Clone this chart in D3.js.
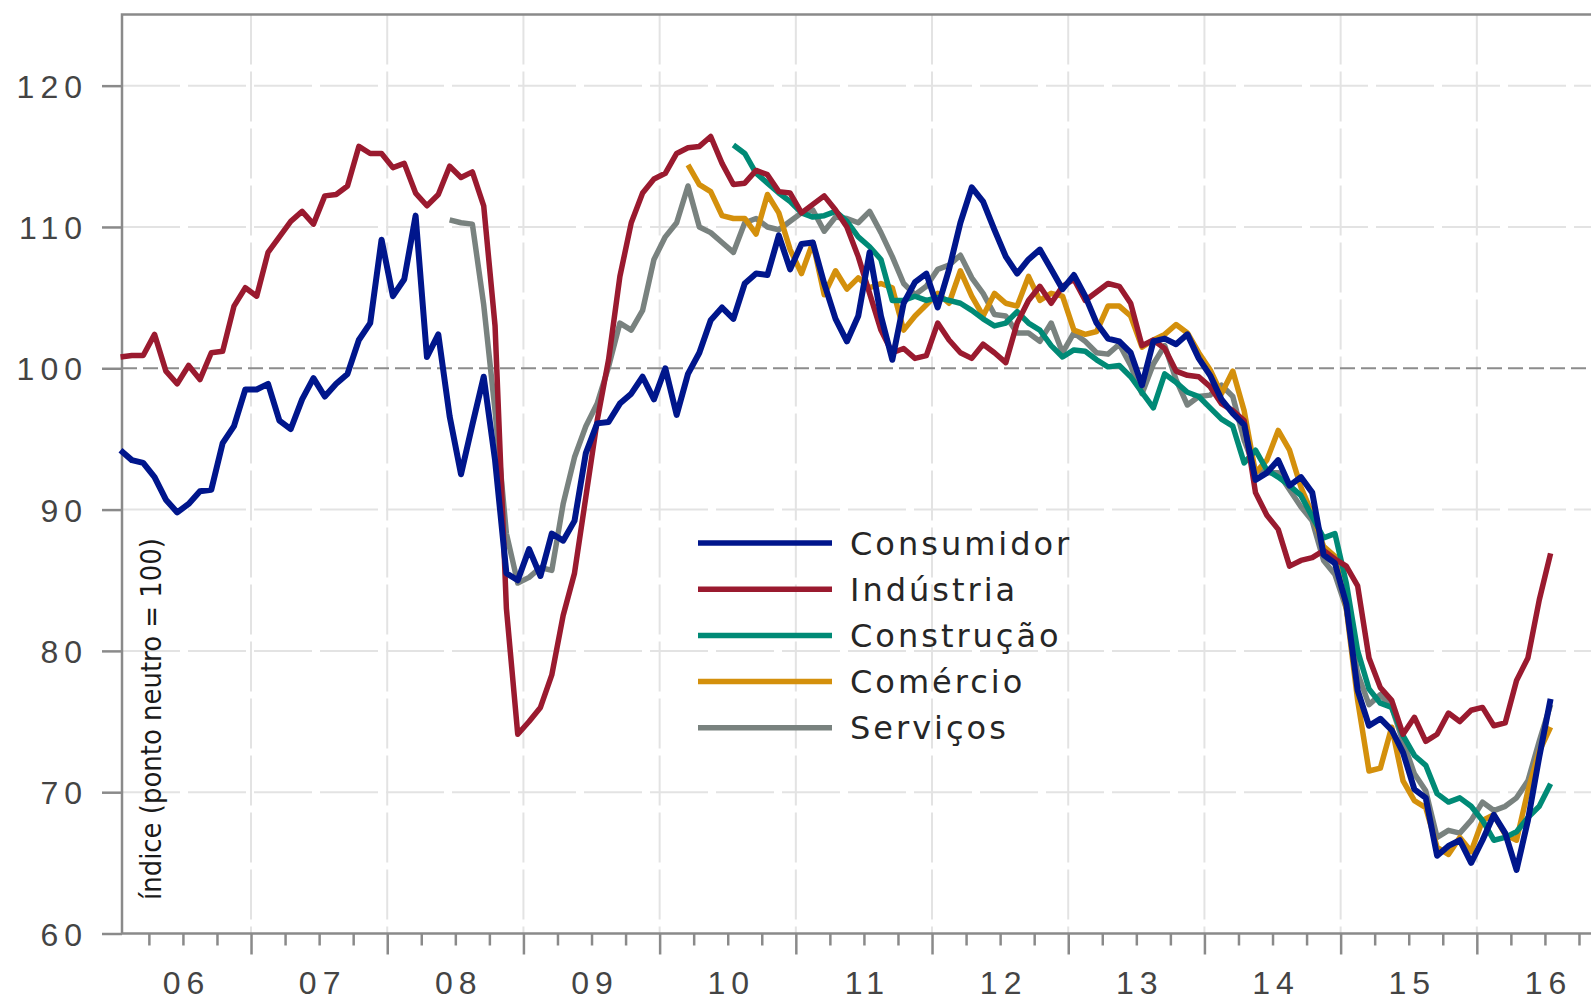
<!DOCTYPE html>
<html>
<head>
<meta charset="utf-8">
<script src="https://cdnjs.cloudflare.com/ajax/libs/d3/7.8.5/d3.min.js"></script>
<style>
  body { margin: 0; background: #fff; }
  svg { display: block; }
</style>
</head>
<body>
<div id="container"></div>
<script>
let w = 1591;
let h = 1005;

// months are counted from Jan 2006 = 0
let yearLabels = ["06", "07", "08", "09", "10", "11", "12", "13", "14", "15", "16"];
let yTicks = [60, 70, 80, 90, 100, 110, 120];

let consumidorStart = 0;
let consumidor = [
  94.2, 93.5, 93.3, 92.3, 90.7, 89.8, 90.4, 91.3, 91.4, 94.7, 95.9, 98.5,
  98.5, 98.9, 96.3, 95.7, 97.8, 99.3, 98.0, 98.9, 99.6, 102.0, 103.2, 109.1,
  105.1, 106.3, 110.8, 100.8, 102.4, 96.6, 92.5, 96.0, 99.4, 93.5, 85.5, 85.0,
  87.2, 85.3, 88.3, 87.8, 89.2, 94.0, 96.1, 96.2, 97.5, 98.2, 99.4, 97.8,
  100.0, 96.7, 99.6, 101.1, 103.4, 104.3, 103.5, 106.0, 106.7, 106.6, 109.4, 107.0,
  108.8, 108.9, 106.0, 103.5, 101.9, 103.7, 108.2, 103.7, 100.6, 104.6, 106.1, 106.7,
  104.3, 107.0, 110.3, 112.8, 111.8, 109.8, 107.9, 106.7, 107.7, 108.4, 107.0, 105.6,
  106.6, 105.1, 103.2, 102.1, 101.9, 101.1, 98.8, 101.9, 102.1, 101.7, 102.4, 100.7,
  99.5, 97.8, 96.8, 96.0, 92.1, 92.6, 93.5, 91.7, 92.3, 91.2, 86.8, 86.2,
  83.3, 77.2, 74.7, 75.2, 74.4, 72.8, 70.2, 69.6, 65.5, 66.2, 66.6, 65.0,
  66.6, 68.4, 67.1, 64.5, 68.0, 72.5, 76.6
];

let industriaStart = 0;
let industria = [
  100.8, 100.9, 100.9, 102.4, 99.8, 98.9, 100.2, 99.2, 101.1, 101.2, 104.4, 105.7,
  105.1, 108.2, 109.3, 110.4, 111.1, 110.2, 112.2, 112.3, 112.9, 115.7, 115.2, 115.2,
  114.2, 114.5, 112.4, 111.5, 112.3, 114.3, 113.5, 113.9, 111.5, 103.0, 83.0, 74.1,
  75.0, 76.0, 78.3, 82.5, 85.5, 90.9, 96.3, 100.6, 106.5, 110.3, 112.4, 113.4,
  113.8, 115.2, 115.6, 115.7, 116.4, 114.5, 113.0, 113.1, 114.0, 113.7, 112.5, 112.4,
  111.0, 111.6, 112.2, 111.2, 110.0, 107.9, 105.3, 102.7, 101.1, 101.4, 100.7, 100.9,
  103.2, 102.0, 101.1, 100.7, 101.7, 101.1, 100.4, 103.2, 104.8, 105.8, 104.6, 105.8,
  106.3, 104.8, 105.4, 106.0, 105.8, 104.6, 101.6, 102.0, 101.4, 99.8, 99.5, 99.4,
  98.7, 97.5, 97.0, 96.3, 91.2, 89.6, 88.6, 86.0, 86.4, 86.6, 87.1, 86.5,
  86.0, 84.6, 79.5, 77.4, 76.5, 74.1, 75.3, 73.6, 74.1, 75.6, 75.0, 75.8,
  76.0, 74.7, 74.9, 77.9, 79.5, 83.6, 86.9
];

let construcaoStart = 54;
let construcao = [
  115.8, 115.2, 113.8, 113.1, 112.4, 111.8,
  111.0, 110.7, 110.8, 111.1, 110.4, 109.3, 108.6, 107.7, 104.8, 104.8, 105.1, 104.8,
  105.0, 104.8, 104.6, 104.1, 103.5, 103.0, 103.2, 104.0, 103.2, 102.7, 101.6, 100.8,
  101.3, 101.2, 100.6, 100.1, 100.2, 99.4, 98.3, 97.2, 99.6, 99.0, 98.3, 98.0,
  97.2, 96.4, 95.9, 93.3, 94.2, 92.8, 92.3, 91.7, 91.0, 89.5, 88.0, 88.3,
  84.8, 80.0, 77.3, 76.3, 76.0, 74.0, 72.6, 71.9, 69.9, 69.3, 69.6, 69.0,
  68.0, 66.6, 66.8, 67.2, 68.2, 69.0, 70.6
];

let comercioStart = 50;
let comercio = [
  114.4, 113.0, 112.5, 110.8, 110.6, 110.6, 109.5, 112.3, 111.0, 108.4,
  106.7, 108.9, 105.2, 106.9, 105.6, 106.4, 105.7, 106.0, 105.7, 102.7, 103.7, 104.5,
  105.3, 104.6, 106.9, 105.1, 103.7, 105.3, 104.6, 104.4, 106.5, 104.8, 105.3, 105.1,
  102.7, 102.4, 102.6, 104.4, 104.4, 103.7, 101.5, 102.0, 102.4, 103.1, 102.5, 101.1,
  99.9, 98.2, 99.8, 97.0, 92.6, 93.5, 95.6, 94.2, 91.6, 89.7, 87.4, 86.7,
  83.0, 76.5, 71.5, 71.7, 74.6, 70.8, 69.4, 68.9, 66.1, 65.6, 66.8, 65.8,
  68.0, 68.4, 67.0, 66.6, 70.1, 72.9, 74.6
];

let servicosStart = 29;
let servicos = [
  110.5, 110.3, 110.2, 104.5, 97.0, 88.3, 84.8,
  85.2, 85.9, 85.7, 90.4, 93.7, 95.9, 97.5, 100.1, 103.2, 102.7, 104.1, 107.7,
  109.3, 110.3, 112.9, 110.0, 109.6, 108.9, 108.2, 110.3, 110.6, 110.0, 109.8, 110.4,
  111.0, 111.2, 109.7, 110.7, 110.6, 110.3, 111.1, 109.6, 107.9, 106.0, 105.2, 105.8,
  107.0, 107.3, 108.0, 106.4, 105.3, 103.8, 103.7, 102.5, 102.5, 101.9, 103.2, 101.1,
  102.5, 101.9, 101.1, 101.0, 101.7, 100.2, 98.2, 100.3, 101.6, 99.2, 97.4, 98.0,
  98.1, 98.8, 98.0, 94.9, 92.8, 92.6, 92.6, 91.4, 90.2, 89.2, 86.4, 85.4,
  83.0, 78.4, 76.2, 76.9, 76.0, 73.6, 71.3, 70.1, 66.8, 67.3, 67.1, 68.0,
  69.3, 68.7, 69.0, 69.6, 70.8, 73.6, 76.2
];

let seriesNames = ["Consumidor", "Indústria", "Construção", "Comércio", "Serviços"];
let seriesColors = ["#00168c", "#9a1a2f", "#008a76", "#d4900c", "#79827f"];
let seriesData = [
  [consumidorStart, consumidor],
  [industriaStart, industria],
  [construcaoStart, construcao],
  [comercioStart, comercio],
  [servicosStart, servicos]
];

let plotLeft = 122;
let plotTop = 14.5;
let plotBottom = 933.5;
let plotRight = w;

let x = d3.scaleLinear().domain([0, 126]).range([120.5, 120.5 + 11.35 * 126]);
let y = d3.scaleLinear().domain([60, 125]).range([plotBottom, 15]);

let viz = d3.select("#container").append("svg")
  .attr("width", w)
  .attr("height", h)
  .style("font-family", "'DejaVu Sans', Verdana, sans-serif");

// grid
let yearTicks = d3.range(1, 11).map(k => 12 * k - 0.5);
let quarterTicks = d3.range(0, 44).map(j => 2.5 + 3 * j).filter(m => yearTicks.indexOf(m) < 0);

viz.append("g").selectAll("line").data(yTicks.filter(t => t != 60 && t != 100)).enter()
  .append("line")
  .attr("x1", plotLeft).attr("x2", plotRight)
  .attr("y1", d => y(d)).attr("y2", d => y(d))
  .attr("stroke", "#e3e3e3").attr("stroke-width", 2)
  .attr("stroke-dasharray", "58,8");

viz.append("g").selectAll("line").data(yearTicks).enter()
  .append("line")
  .attr("x1", d => x(d)).attr("x2", d => x(d))
  .attr("y1", plotTop).attr("y2", plotBottom)
  .attr("stroke", "#e3e3e3").attr("stroke-width", 2)
  .attr("stroke-dasharray", "50,7");

// neutral line
viz.append("line")
  .attr("x1", plotLeft).attr("x2", plotRight)
  .attr("y1", y(100)).attr("y2", y(100))
  .attr("stroke", "#8c8c8c").attr("stroke-width", 2)
  .attr("stroke-dasharray", "15,6");

// frame
viz.append("path")
  .attr("d", "M" + plotRight + "," + plotTop + "H" + plotLeft + "V" + plotBottom + "H" + plotRight)
  .attr("fill", "none").attr("stroke", "#8a8a8a").attr("stroke-width", 2.5);

// y axis
let yAxis = viz.append("g")
  .attr("transform", "translate(" + plotLeft + ",0)")
  .call(d3.axisLeft(y).tickValues(yTicks).tickSize(20).tickSizeOuter(0).tickPadding(14));
yAxis.select(".domain").remove();
yAxis.selectAll("line").attr("stroke", "#8a8a8a").attr("stroke-width", 2.5);
yAxis.selectAll("text")
  .attr("fill", "#444")
  .style("font-size", "32px")
  .style("letter-spacing", "6px")
  .attr("dy", "0.36em");

// x axis: year and quarter ticks, labels in the middle of each year
let xMajor = viz.append("g")
  .attr("transform", "translate(0," + plotBottom + ")")
  .call(d3.axisBottom(x).tickValues(yearTicks).tickSize(21).tickSizeOuter(0).tickFormat(""));
xMajor.select(".domain").remove();
xMajor.selectAll("line").attr("stroke", "#8a8a8a").attr("stroke-width", 2.5);

let xMinor = viz.append("g")
  .attr("transform", "translate(0," + plotBottom + ")")
  .call(d3.axisBottom(x).tickValues(quarterTicks).tickSize(12).tickSizeOuter(0).tickFormat(""));
xMinor.select(".domain").remove();
xMinor.selectAll("line").attr("stroke", "#8a8a8a").attr("stroke-width", 2.5);

let xLabels = viz.append("g")
  .attr("transform", "translate(0," + plotBottom + ")")
  .call(d3.axisBottom(x).tickValues(yearLabels.map((d, i) => 12 * i + 5.5))
    .tickSize(0).tickPadding(38).tickFormat((d, i) => yearLabels[i]));
xLabels.select(".domain").remove();
xLabels.selectAll("text")
  .attr("fill", "#444")
  .attr("dx", "3px")
  .style("font-size", "32px")
  .style("letter-spacing", "6px");

// y title
viz.append("text")
  .attr("transform", "translate(161,900) rotate(-90)")
  .attr("textLength", 362)
  .attr("lengthAdjust", "spacingAndGlyphs")
  .attr("fill", "#1a1a1a")
  .style("font-size", "29px")
  .text("índice (ponto neutro = 100)");

// lines
let line = d3.line()
  .x(d => x(d.m))
  .y(d => y(d.v));

let drawOrder = [4, 3, 2, 1, 0];
drawOrder.forEach(function (k) {
  let start = seriesData[k][0];
  let pts = seriesData[k][1].map((v, i) => ({ m: start + i, v: v }));
  viz.append("path")
    .datum(pts)
    .attr("d", line)
    .attr("fill", "none")
    .attr("stroke", seriesColors[k])
    .attr("stroke-width", k == 0 ? 6 : 5.5)
    .attr("stroke-linejoin", "round");
});

// legend
let legend = viz.append("g").attr("transform", "translate(698,543)");
let items = legend.selectAll("g").data(seriesNames).enter()
  .append("g")
  .attr("transform", (d, i) => "translate(0," + i * 46.2 + ")");
items.append("line")
  .attr("x1", 0).attr("x2", 134)
  .attr("stroke", (d, i) => seriesColors[i])
  .attr("stroke-width", 5.5);
items.append("text")
  .attr("x", 152)
  .attr("dy", "0.36em")
  .attr("fill", "#262626")
  .style("font-size", "32px")
  .style("letter-spacing", "3px")
  .text(d => d);
</script>
</body>
</html>
